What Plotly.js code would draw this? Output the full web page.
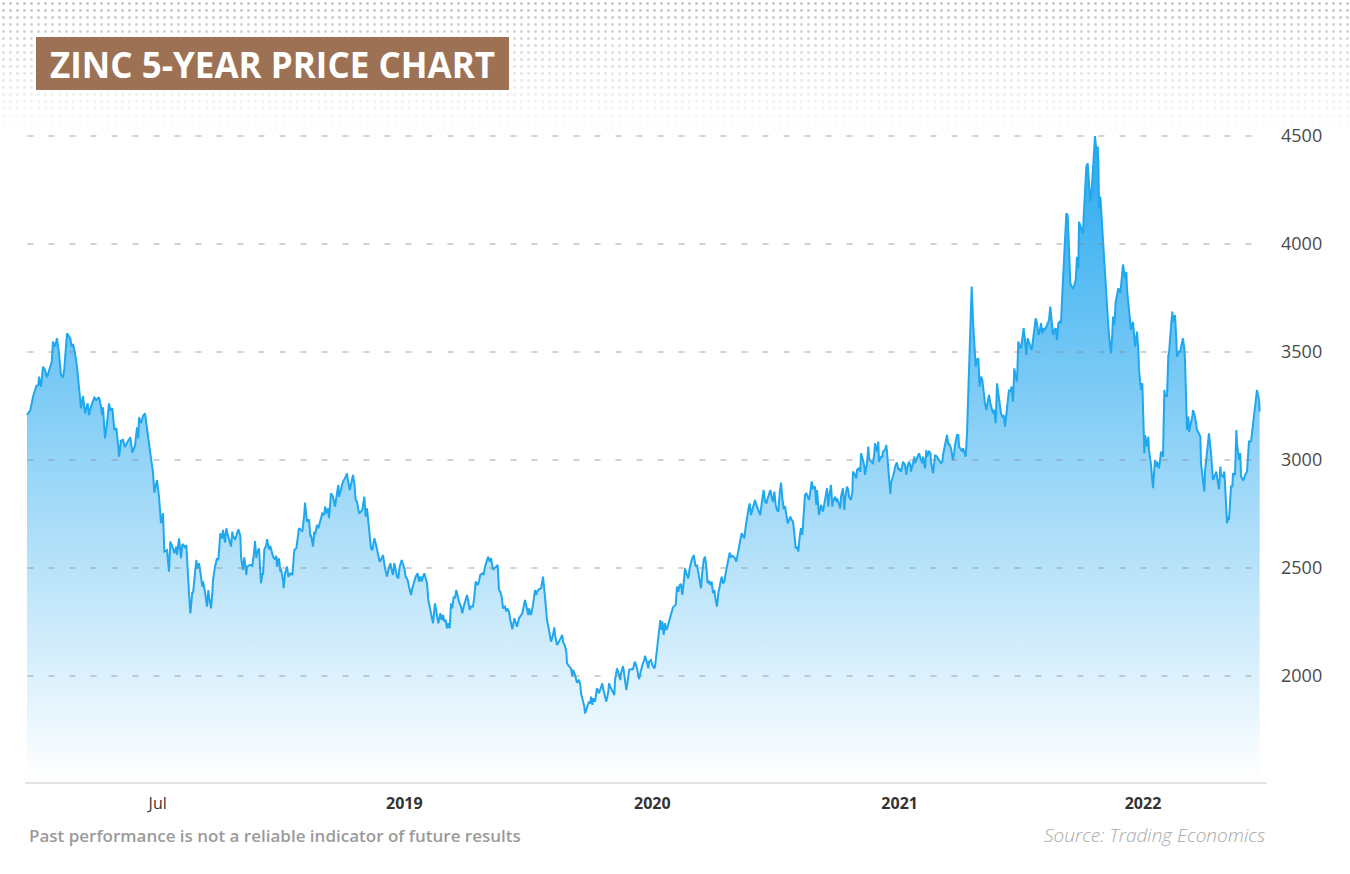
<!DOCTYPE html>
<html>
<head>
<meta charset="utf-8">
<script src="https://cdn.plot.ly/plotly-3.0.1.min.js"></script>
<style>
  html, body { margin: 0; padding: 0; background: #ffffff; }
  #wrap { position: relative; width: 1350px; height: 874px; overflow: hidden; }
  #dots {
    position: absolute; left: 0; top: 0; width: 1350px; height: 135px;
    background-image: radial-gradient(circle at center, #c2c2c2 0, #c2c2c2 1.1px, rgba(194,194,194,0) 1.7px);
    background-size: 7px 7px;
    -webkit-mask-image: linear-gradient(to bottom, rgba(0,0,0,0.9), rgba(0,0,0,0));
    mask-image: linear-gradient(to bottom, rgba(0,0,0,0.9), rgba(0,0,0,0));
  }
  #chart { position: absolute; left: 0; top: 0; width: 1350px; height: 874px; }
</style>
</head>
<body>
<div id="wrap"><div id="dots"></div><div id="chart"></div></div>
<script>
// ---- DATA ----
const startDate = '2017-12-01';
// days after startDate
const dayOffsets = [
  0,5,9,14,17,18,21,24,27,30,35,37,39,42,45,48,51,54,56,60,65,67,69,72,75,77,80,81,84,87,91,93,96,101,104,108,111,113,114,117,120,123,125,128,131,134,137,138,141,144,147,150,155,158,162,165,167,168,171,174,177,180,185,189,191,195,198,201,204,206,210,213,215,219,221,224,225,228,231,233,236,
  237,239,240,243,245,248,249,252,254,255,258,261,263,264,267,270,272,273,276,278,279,282,285,287,288,290,293,294,297,299,300,303,306,308,309,312,314,317,320,321,324,326,329,330,335,338,341,342,344,345,348,350,351,353,354,356,359,360,363,365,368,369,372,374,375,378,380,381,384,385,387,390,392,395,398,401,404,405,408,411,413,416,417,420,423,425,426,429,431,432,435,437,440,443,446,447,450,452,453,456,459,462,465,467,468,471,474,477,
  480,481,484,487,489,491,493,495,498,501,503,506,508,510,512,514,516,518,521,523,526,529,531,534,537,540,542,545,547,549,551,553,555,557,559,562,564,566,568,571,573,576,578,581,583,586,588,590,592,594,596,598,600,602,604,607,609,612,614,617,620,622,624,626,628,630,632,634,636,638,640,642,644,646,648,651,653,655,658,660,662,664,666,669,671,673,676,678,680,683,685,687,690,692,694,696,699,701,704,706,708,710,
  712,714,717,719,720,723,725,728,731,734,735,738,743,747,750,752,753,756,759,762,764,765,768,771,773,774,777,780,783,785,786,789,791,792,795,798,801,803,804,807,809,810,813,816,818,819,822,825,828,830,831,834,836,837,840,843,845,846,848,849,852,854,855,858,860,863,864,867,869,872,873,876,879,881,882,885,888,890,891,894,897,899,902,903,906,909,911,912,915,918,920,923,926,927,930,932,933,936,938,941,942,
  946,950,951,953,955,957,959,961,963,965,967,969,973,975,977,979,981,983,985,987,989,992,994,997,1000,1003,1005,1007,1009,1011,1013,1015,1017,1019,1021,1023,1025,1027,1029,1031,1033,1035,1037,1040,1042,1044,1046,1048,1050,1052,1054,1056,1058,1060,1062,1064,1066,1068,1070,1072,1074,1076,1078,1080,1082,1084,1086,1088,1090,1092,1094,1096,1098,1100,1102,1104,1105,1107,1109,1111,1113,1115,1117,1119,1121,1123,1125,1127,1129,1131,1133,1135,1137,1139,1141,1143,1145,1147,1149,1151,1153,1155,1157,1159,1161,1163,1165,1167,1169,1171,1173,
  1175,1177,1179,1182,1184,1185,1188,1190,1191,1194,1196,1197,1200,1202,1203,1206,1208,1209,1212,1214,1215,1218,1220,1221,1224,1226,1227,1230,1232,1233,1236,1238,1239,1242,1244,1245,1248,1250,1251,1254,1256,1257,1260,1262,1263,1266,1269,1271,1272,1275,1277,1278,1281,1283,1284,1287,1289,1290,1293,1295,1296,1299,1301,1302,1305,1307,1308,1311,1313,1314,1317,1319,1320,1323,1325,1326,1329,1331,1332,1335,1337,1338,1341,1343,1344,1347,1349,1350,1353,1355,1356,1359,1361,1362,1365,1367,1368,1371,1373,1374,1377,1380,1382,1383,1386,1389,1391,1392,1395,1397,1398,1401,1403,1404,
  1408,1410,1412,1414,1416,1417,1419,1421,1423,1425,1427,1429,1431,1433,1435,1437,1439,1441,1443,1445,1447,1449,1451,1453,1455,1457,1459,1461,1463,1465,1467,1469,1471,1473,1475,1477,1479,1481,1483,1485,1487,1489,1491,1493,1495,1497,1499,1501,1503,1505,1507,1509,1511,1513,1515,1517,1519,1521,1523,1525,1527,1529,1531,1533,1535,1537,1539,1541,1543,1545,1547,1549,1551,1553,1555,1557,1559,1561,1563,1565,1567,1569,1571,1573,1575,1577,1578,1580,1582,1584,1585,1587,1589,1591,1593,1595,1597,1599,1600,1602,1604,1606,1607,1608,1610,1612,1614,1616,1618,1620,1622,1624,1626,1628,1629,1631,1633,1635,1637,1640,
  1642,1644,1647,1649,1650,
  1652,1655,1656,1659,1661,1662,1665,1667,1668,1671,1673,1674,1676,1677,1680,1682,1683,1686,1688,1689,1692,1694,1695,1698,1700,1701,1704,1705,1706,1707,1710,1712,1713,1716,1718,1719,1722,1724,1725,1728,1730,1731,1734,1736,1737,1740,1742,1743,1746,1748,1749,1752,1754,1755,1758,1760,1761,1764,1766,1767,1770,1772,1773,1776,1778,1779,1782,1784,1785,1788,1790,1791,1794,1796,1797,1800,1802,1803,1806,1808,1809,1812,1814,1815,1818,1820,1821,1824,1826,1827,1830,1832,1833,1836,1838,1839,1842,1844,1845,1848,1849
];
// zinc price, USD per tonne
const prices = [
  3208,3231,3293,3343,3347,3386,3339,3432,3417,3383,3432,3451,3548,3525,3563,3494,3393,3383,3424,3586,3563,3525,3537,3494,3432,3370,3293,3239,3296,3216,3262,3208,3247,3289,3278,3290,3247,3208,3244,3100,3170,3262,3231,3239,3139,3147,3062,3015,3089,3093,3059,3080,3105,3034,3066,3151,3100,3198,3170,3204,3216,3139,3031,2941,2849,2907,2830,2707,2753,2576,2583,2483,2622,2591,2568,2599,2560,2637,2545,2611,2599,
  2596,2606,2537,2383,2290,2390,2383,2468,2537,2498,2522,2460,2414,2437,2390,2321,2398,2367,2313,2383,2444,2506,2545,2537,2599,2660,2637,2676,2617,2684,2668,2630,2599,2668,2648,2630,2653,2679,2648,2552,2491,2549,2468,2506,2514,2509,2583,2625,2545,2568,2591,2491,2429,2475,2468,2586,2606,2633,2586,2602,2560,2552,2540,2556,2506,2545,2483,2494,2444,2406,2475,2506,2460,2475,2468,2583,2591,2614,2684,2676,2668,2753,2802,2715,2725,2645,2653,2599,2668,2653,2699,2684,2722,2753,2745,2784,2753,2776,2730,2846,2830,2784,2846,2884,2830,2861,2900,2915,
  2938,2915,2861,2900,2931,2892,2815,2807,2753,2761,2769,2830,2738,2776,2707,2645,2591,2583,2637,2614,2568,2529,2537,2560,2498,2460,2491,2522,2491,2468,2522,2491,2460,2452,2506,2537,2522,2498,2460,2444,2414,2375,2406,2444,2460,2475,2437,2460,2437,2460,2475,2452,2429,2352,2321,2275,2244,2336,2290,2244,2290,2259,2282,2252,2259,2221,2244,2221,2336,2313,2367,2360,2398,2367,2344,2321,2290,2321,2360,2375,2344,2306,2321,2321,2367,2437,2421,2437,2468,2475,2468,2506,2537,2552,2529,2545,2491,2498,2506,2514,2398,2390,
  2367,2313,2321,2298,2313,2298,2259,2216,2267,2244,2228,2267,2290,2352,2306,2282,2313,2282,2329,2398,2375,2390,2401,2406,2437,2460,2367,2259,2213,2182,2159,2190,2225,2190,2144,2159,2182,2190,2159,2139,2113,2059,2046,2035,1997,2028,2005,1969,1982,1958,1920,1889,1858,1827,1850,1881,1873,1904,1866,1897,1881,1920,1943,1920,1935,1966,1943,1904,1881,1927,1966,1943,1927,1912,1981,2035,2005,1981,2012,2046,1981,1935,1997,2028,2031,2031,2059,2066,2035,1985,2012,2051,2074,2093,2062,2035,2066,2074,2051,2035,2043,
  2167,2259,2213,2252,2190,2244,2213,2228,2252,2275,2306,2318,2329,2414,2390,2421,2426,2375,2429,2498,2475,2452,2498,2537,2560,2506,2514,2483,2444,2406,2483,2537,2552,2506,2429,2440,2421,2437,2383,2398,2352,2321,2383,2421,2460,2429,2437,2475,2506,2537,2571,2549,2556,2552,2545,2529,2568,2607,2630,2661,2645,2637,2691,2738,2769,2799,2745,2769,2792,2815,2792,2776,2761,2745,2799,2846,2861,2807,2799,2823,2838,2861,2830,2807,2853,2792,2769,2761,2846,2895,2823,2772,2787,2753,2707,2722,2738,2722,2715,2661,2591,2599,2576,2645,2684,2653,2745,2838,2846,2830,2815,
  2853,2900,2869,2877,2792,2861,2745,2776,2792,2761,2807,2815,2869,2784,2823,2884,2784,2807,2830,2807,2823,2799,2776,2830,2869,2769,2815,2877,2861,2830,2815,2853,2946,2931,2915,2954,2961,2946,3031,3000,2969,2931,2985,3062,3008,2992,2985,3031,3077,3039,3085,2992,3015,3015,3039,3046,3069,3039,2900,2843,2892,2923,2946,2969,2988,2954,2961,2946,2969,2992,2977,2931,2961,2992,2977,2946,2985,3015,2985,3008,3015,3031,3000,2985,3015,2961,3046,3015,3039,3034,2992,2938,2992,3023,3015,3008,3000,2985,2992,3023,3062,3116,3069,3077,3054,3000,3039,3069,3116,3116,3062,3046,3039,3054,
  3015,3123,3340,3571,3772,3803,3648,3525,3432,3463,3471,3340,3386,3370,3309,3262,3232,3278,3301,3262,3232,3216,3232,3170,3355,3309,3262,3216,3201,3208,3154,3216,3278,3324,3316,3340,3270,3424,3386,3363,3548,3525,3517,3571,3610,3556,3486,3563,3548,3525,3509,3556,3617,3656,3633,3579,3594,3633,3586,3610,3602,3617,3633,3648,3710,3648,3579,3602,3610,3556,3633,3640,3633,3772,3910,4034,4142,4134,4003,3818,3803,3795,3810,3833,3941,3887,4103,4088,4065,4049,4127,4265,4358,4373,4265,4196,4250,4343,4435,4500,4435,4451,4389,4165,4219,4111,3988,3895,3803,3710,3617,3548,3494,3586,3664,3625,3733,3764,3795,3772,
  3860,3905,3840,3870,3790,
  3725,3664,3602,3640,3571,3525,3594,3509,3417,3324,3355,3201,3031,3116,3062,3108,3046,2977,2923,2869,3000,2969,2992,2961,3008,3039,3015,3139,3324,3301,3293,3486,3494,3617,3687,3640,3671,3556,3478,3502,3502,3525,3563,3517,3463,3139,3201,3131,3170,3201,3231,3201,3162,3139,3123,3108,2985,2907,2853,2946,3031,3085,3123,3031,2954,2907,2930,2946,2923,2864,2969,2930,2923,2946,2892,2707,2738,2722,2877,2877,2938,2930,3139,3077,3000,3031,2923,2907,2915,2930,2946,3015,3085,3085,3139,3185,3255,3309,3324,3278,3224
];
const tickDates = ['2018-06-15', '2019-06-20', '2020-06-26', '2021-07-02', '2022-07-02'];
const tickLabels = ['Jul', '2019', '2020', '2021', '2022'];
const yTicks = [2000, 2500, 3000, 3500, 4000, 4500];
const titleText = 'ZINC 5-YEAR PRICE CHART';
const noteText = 'Past performance is not a reliable indicator of future results';
const sourceText = 'Source: Trading Economics';

// ---- CHART ----
const FONT = '"Open Sans", "DejaVu Sans", sans-serif';
const startMs = Date.parse(startDate + 'T00:00:00Z');
const toDate = d => new Date(startMs + d * 86400000).toISOString().slice(0, 10);
const xDates = dayOffsets.map(toDate);

// plot area geometry (pixels) used to place decorations in paper coords
const PL = 25, PR = 1267, PT = 120, PB = 782;
const px2x = p => (p - PL) / (PR - PL);
const py2y = p => (PB - p) / (PB - PT);

const trace = {
  x: xDates, y: prices, type: 'scatter', mode: 'lines',
  line: { color: '#1fa7ef', width: 2 },
  fill: 'tozeroy',
  fillgradient: {
    type: 'vertical', start: 1509, stop: 4500,
    colorscale: [[0, 'rgba(255,255,255,1)'], [1, 'rgba(41,169,239,1)']]
  },
  hoverinfo: 'skip'
};

const gridShapes = yTicks.map(v => ({
  type: 'line', xref: 'paper', yref: 'y', x0: 0.002, x1: 0.998, y0: v, y1: v,
  line: { color: 'rgba(135,135,135,0.5)', width: 1.5, dash: '6px,15px' }, layer: 'above'
}));

const layout = {
  width: 1350, height: 874,
  margin: { l: PL, r: 1350 - PR, t: PT, b: 874 - PB },
  paper_bgcolor: 'rgba(0,0,0,0)', plot_bgcolor: 'rgba(0,0,0,0)',
  showlegend: false,
  font: { family: FONT, color: '#444' },
  xaxis: {
    type: 'date', range: [toDate(-3), toDate(1860)],
    tickmode: 'array', tickvals: tickDates,
    ticktext: tickLabels.map(l => /^\d{4}$/.test(l) ? '<b>' + l + '</b>' : l),
    showgrid: false, zeroline: false, showline: true, linecolor: '#e4e4e4', linewidth: 2,
    ticks: '', tickfont: { size: 16, color: '#333', family: FONT }, ticklabelstandoff: 6,
    fixedrange: true
  },
  yaxis: {
    side: 'right', range: [1509, 4574], tickmode: 'array', tickvals: yTicks,
    ticktext: yTicks.map(String),
    showgrid: false, zeroline: false, showline: false, ticks: '',
    tickfont: { size: 18, color: '#4a4a4a', family: FONT }, ticklabelstandoff: 13,
    fixedrange: true
  },
  shapes: gridShapes.concat([{
    type: 'rect', xref: 'paper', yref: 'paper',
    x0: px2x(36), x1: px2x(509), y0: py2y(90), y1: py2y(37),
    fillcolor: '#9d7154', line: { width: 0 }, layer: 'above'
  }]),
  annotations: [
    { text: titleText, xref: 'paper', yref: 'paper', x: px2x(272.5), y: py2y(64),
      xanchor: 'center', yanchor: 'middle', showarrow: false,
      font: { family: FONT, size: 35, color: '#ffffff', weight: 700 } },
    { text: noteText, xref: 'paper', yref: 'paper', x: px2x(27), y: py2y(835),
      xanchor: 'left', yanchor: 'middle', showarrow: false,
      font: { family: FONT, size: 17, color: '#9b9b9b', weight: 600 } },
    { text: '<i>' + sourceText + '</i>', xref: 'paper', yref: 'paper', x: px2x(1267), y: py2y(835),
      xanchor: 'right', yanchor: 'middle', showarrow: false,
      font: { family: FONT, size: 19, color: '#a8a8a8', weight: 300 } }
  ]
};

Plotly.newPlot('chart', [trace], layout, { displayModeBar: false, staticPlot: true });
</script>
</body>
</html>
